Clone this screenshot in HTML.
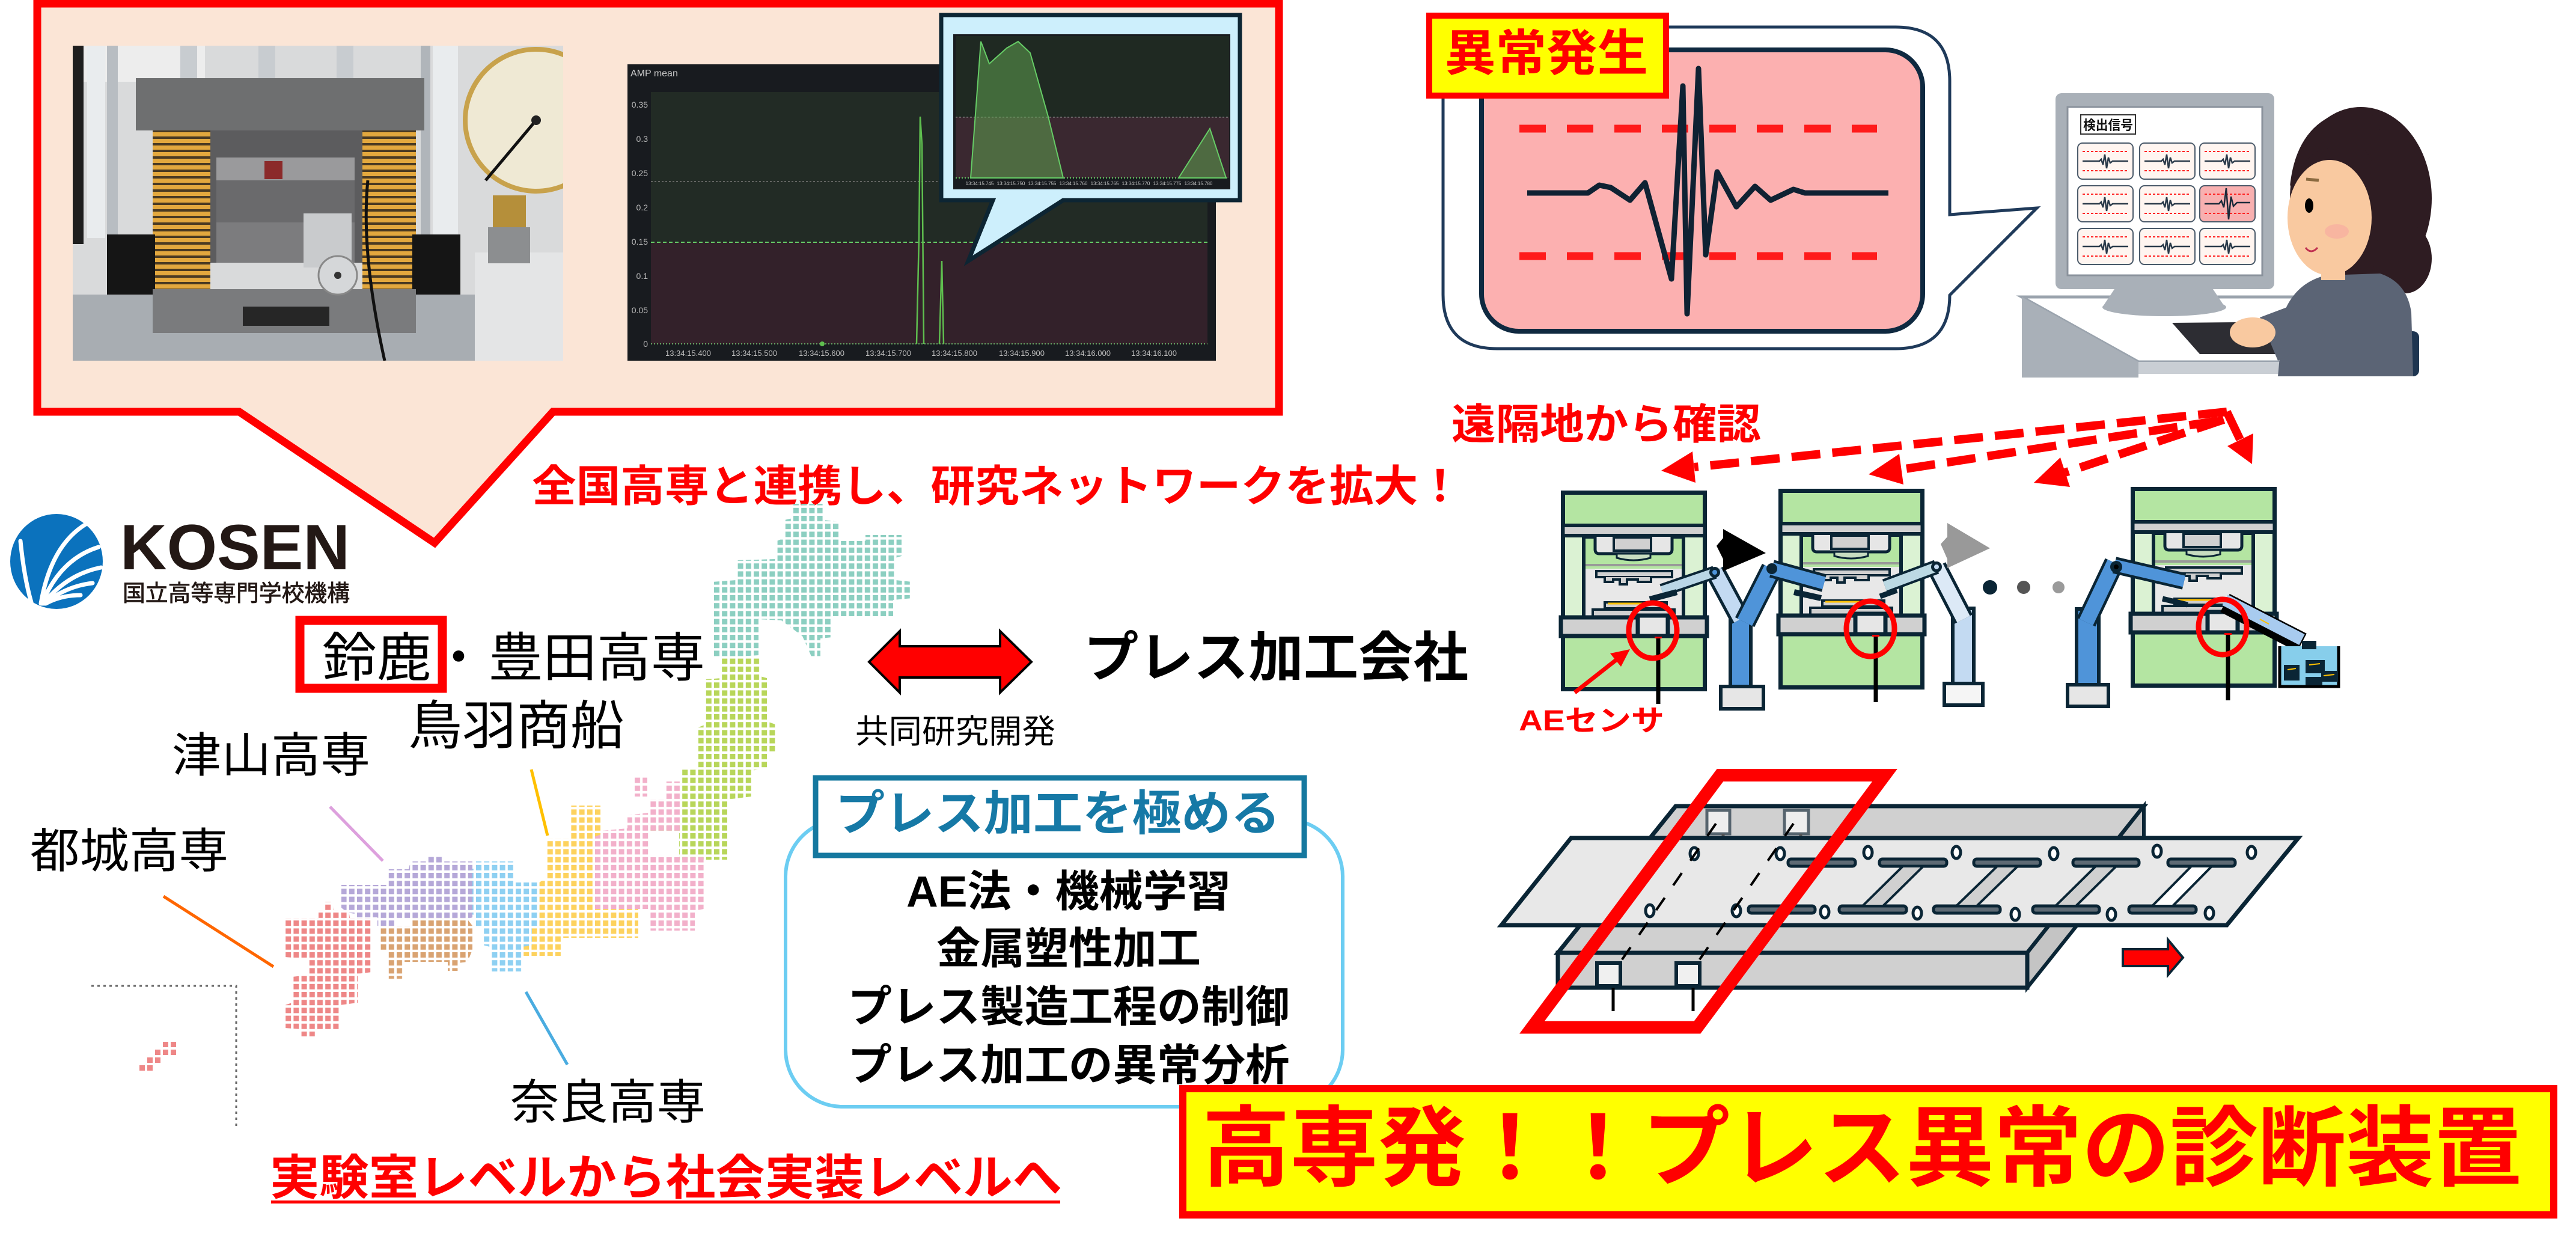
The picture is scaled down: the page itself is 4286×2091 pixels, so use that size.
<!DOCTYPE html>
<html><head><meta charset="utf-8">
<style>
html,body{margin:0;padding:0;background:#fff;}
svg{display:block;}
.t{font-family:"Liberation Sans","Noto Sans CJK JP",sans-serif;}
.b{font-family:"Liberation Sans","Noto Sans CJK JP",sans-serif;font-weight:bold;}
</style></head><body>
<svg xmlns="http://www.w3.org/2000/svg" width="4286" height="2091" viewBox="0 0 4286 2091">
<defs>
<pattern id="mh" width="13.2" height="13.2" patternUnits="userSpaceOnUse"><rect width="9" height="9" fill="#8CCFC1"/></pattern>
<pattern id="mt" width="13.2" height="13.2" patternUnits="userSpaceOnUse"><rect width="9" height="9" fill="#B8D65A"/></pattern>
<pattern id="mk" width="13.2" height="13.2" patternUnits="userSpaceOnUse"><rect width="9" height="9" fill="#F2B0CA"/></pattern>
<pattern id="mc" width="13.2" height="13.2" patternUnits="userSpaceOnUse"><rect width="9" height="9" fill="#FDD25E"/></pattern>
<pattern id="mn" width="13.2" height="13.2" patternUnits="userSpaceOnUse"><rect width="9" height="9" fill="#8ED0F2"/></pattern>
<pattern id="mg" width="13.2" height="13.2" patternUnits="userSpaceOnUse"><rect width="9" height="9" fill="#B5A8D8"/></pattern>
<pattern id="ms" width="13.2" height="13.2" patternUnits="userSpaceOnUse"><rect width="9" height="9" fill="#D9A372"/></pattern>
<pattern id="my" width="13.2" height="13.2" patternUnits="userSpaceOnUse"><rect width="9" height="9" fill="#EE8787"/></pattern>
<pattern id="spr" width="20" height="11" patternUnits="userSpaceOnUse"><rect width="20" height="11" fill="#E3A83E"/><rect y="7" width="20" height="4" fill="#4A3A22"/></pattern>
<clipPath id="phc"><rect x="121" y="76" width="816" height="524"/></clipPath>
<g id="press">
 <rect x="3.5" y="3.5" width="236" height="327" fill="#B4E5A2" stroke="#0A2535" stroke-width="7"/>
 <rect x="3.5" y="58" width="236" height="17" fill="#D0D0D0" stroke="#0A2535" stroke-width="6"/>
 <rect x="7" y="78" width="229" height="132" fill="#DBF2D3"/>
 <rect x="38" y="77" width="166" height="134" fill="#B4E5A2" stroke="#0A2535" stroke-width="6"/>
 <rect x="41" y="130" width="160" height="80" fill="#E8E8E8"/>
 <path d="M57,77 V98 Q57,105 64,105 H178 Q185,105 185,98 V77" fill="#E6E6E6" stroke="#0A2535" stroke-width="5"/>
 <rect x="88" y="78" width="62" height="22" fill="#D0D0D0" stroke="#0A2535" stroke-width="4"/>
 <path d="M93,105 V112 Q121,120 149,112 V105 Z" fill="#C7DCC0" stroke="#0A2535" stroke-width="3"/>
 <rect x="41" y="122" width="160" height="4" fill="#999"/>
 <rect x="59" y="134" width="126" height="10" fill="#D0D0D0" stroke="#0A2535" stroke-width="4"/>
 <path d="M73,144 V152 H87 V148 H98 V156 H110 V148 H128 V152 H150 V144" fill="#D0D0D0" stroke="#0A2535" stroke-width="4"/>
 <rect x="73" y="186" width="103" height="10" fill="#D0D0D0" stroke="#0A2535" stroke-width="4"/>
 <line x1="78" y1="188" x2="170" y2="188" stroke="#FFC000" stroke-width="3"/>
 <rect x="53" y="198" width="136" height="12" fill="#D0D0D0" stroke="#0A2535" stroke-width="4"/>
 <rect x="0" y="211" width="243" height="31" fill="#D0D0D0" stroke="#0A2535" stroke-width="7"/>
 <rect x="128" y="208" width="50" height="34" fill="#E6E6E6" stroke="#0A2535" stroke-width="7"/>
</g>
<g id="sens">
 <line x1="162" y1="246" x2="162" y2="355" stroke="#000" stroke-width="7"/>
 <rect x="156" y="243" width="12" height="3" fill="#F00"/>
 <ellipse cx="153" cy="233" rx="40" ry="46" fill="none" stroke="#FF0000" stroke-width="9"/>
</g>
<g id="pnl">
 <rect x="0" y="0" width="92" height="60" rx="8" fill="#FFF5F0" stroke="#4A5A6A" stroke-width="2"/>
 <line x1="8" y1="14" x2="84" y2="14" stroke="#F22" stroke-width="2" stroke-dasharray="4 3"/>
 <line x1="8" y1="46" x2="84" y2="46" stroke="#F22" stroke-width="2" stroke-dasharray="4 3"/>
 <path d="M8,30 H36 L39,27 L42,36 L45,19 L48,42 L51,24 L54,33 L58,30 H84" fill="none" stroke="#2A3A4A" stroke-width="2.5"/>
</g>
</defs>

<rect width="4286" height="2091" fill="#fff"/>

<!-- ===== Top-left callout ===== -->
<path d="M62,6 H2128 V685 H920 L723,903 L398,685 H62 Z" fill="#FBE5D6" stroke="#FF0000" stroke-width="13" stroke-linejoin="miter"/>

<!-- photo -->
<g clip-path="url(#phc)">
 <rect x="121" y="76" width="816" height="524" fill="#D9DADB"/>
 <rect x="121" y="76" width="220" height="60" fill="#EDEDED"/>
 <rect x="121" y="76" width="18" height="330" fill="#1E1E1E"/>
 <rect x="145" y="76" width="30" height="320" fill="#E9ECEE"/>
 <rect x="178" y="76" width="18" height="320" fill="#B8BDC2"/>
 <rect x="700" y="76" width="16" height="320" fill="#B0B5BA"/>
 <rect x="720" y="76" width="42" height="320" fill="#E9ECEE"/>
 <rect x="300" y="76" width="28" height="60" fill="#C8CCD0"/>
 <rect x="430" y="76" width="28" height="60" fill="#C8CCD0"/>
 <rect x="560" y="76" width="28" height="60" fill="#C8CCD0"/>
 <rect x="226" y="130" width="480" height="87" fill="#6E6F70"/>
 <rect x="350" y="217" width="253" height="220" fill="#5C5C5E"/>
 <rect x="360" y="262" width="230" height="38" fill="#9A9A9C"/>
 <rect x="440" y="268" width="30" height="30" fill="#8B2A2A"/>
 <rect x="360" y="300" width="230" height="70" fill="#6A6A6C"/>
 <rect x="360" y="370" width="230" height="67" fill="#7C7C7E"/>
 <rect x="254" y="217" width="96" height="264" fill="url(#spr)"/>
 <rect x="603" y="217" width="89" height="264" fill="url(#spr)"/>
 <rect x="178" y="390" width="80" height="100" fill="#151515"/>
 <rect x="686" y="390" width="80" height="100" fill="#151515"/>
 <rect x="121" y="490" width="816" height="110" fill="#A8ADB2"/>
 <rect x="254" y="481" width="438" height="73" fill="#7A7B7D"/>
 <rect x="404" y="510" width="144" height="32" fill="#262626"/>
 <rect x="505" y="355" width="80" height="90" fill="#C9CBCD"/>
 <circle cx="562" cy="458" r="32" fill="#D5D7D9" stroke="#888" stroke-width="3"/>
 <circle cx="562" cy="458" r="6" fill="#333"/>
 <path d="M612,300 Q600,420 640,600" stroke="#111" stroke-width="5" fill="none"/>
 <rect x="790" y="420" width="147" height="180" fill="#E4E5E6"/>
 <rect x="820" y="325" width="55" height="55" fill="#B58F3A"/>
 <rect x="812" y="378" width="70" height="60" fill="#8C8E90"/>
 <circle cx="892" cy="200" r="118" fill="#EFE9D4" stroke="#C8A24C" stroke-width="8"/>
 <line x1="892" y1="200" x2="808" y2="300" stroke="#111" stroke-width="5"/>
 <circle cx="892" cy="200" r="8" fill="#222"/>
</g>

<!-- chart -->
<rect x="1044" y="107" width="979" height="493" fill="#181B1F"/>
<text class="t" x="1049" y="127" font-size="16" fill="#ccc">AMP mean</text>
<rect x="1083" y="153" width="926" height="250" fill="#222B25"/>
<rect x="1083" y="403" width="926" height="169" fill="#33212A"/>
<line x1="1083" y1="302" x2="2009" y2="302" stroke="#777" stroke-width="1.5" stroke-dasharray="3 3"/>
<line x1="1083" y1="403" x2="2009" y2="403" stroke="#6c6" stroke-width="2" stroke-dasharray="6 4"/>
<line x1="1083" y1="572" x2="2009" y2="572" stroke="#6a6" stroke-width="2" stroke-dasharray="2 3"/>
<g class="t" font-size="14" fill="#bbb" text-anchor="end">
<text x="1078" y="179">0.35</text><text x="1078" y="236">0.3</text><text x="1078" y="293">0.25</text><text x="1078" y="350">0.2</text><text x="1078" y="407">0.15</text><text x="1078" y="464">0.1</text><text x="1078" y="521">0.05</text><text x="1078" y="577">0</text>
</g>
<g class="t" font-size="13" fill="#bbb" text-anchor="middle">
<text x="1145" y="592">13:34:15.400</text><text x="1255" y="592">13:34:15.500</text><text x="1367" y="592">13:34:15.600</text><text x="1478" y="592">13:34:15.700</text><text x="1588" y="592">13:34:15.800</text><text x="1700" y="592">13:34:15.900</text><text x="1810" y="592">13:34:16.000</text><text x="1920" y="592">13:34:16.100</text>
</g>
<polyline points="1525,572 1529,395 1531,194 1534,240 1537,572" fill="none" stroke="#5fbf4f" stroke-width="2.5"/>
<polyline points="1563,572 1567,434 1570,572" fill="none" stroke="#5fbf4f" stroke-width="2.5"/>
<circle cx="1368" cy="572" r="4" fill="#5fbf4f"/>

<!-- inset callout -->
<path d="M1566,25 H2063 V333 H1769 L1611,434 L1652,333 H1566 Z" fill="#CDEFFC" stroke="#0D2533" stroke-width="7" stroke-linejoin="miter"/>
<rect x="1586" y="57" width="461" height="258" fill="#181B1F"/>
<rect x="1590" y="60" width="455" height="135" fill="#1F2922"/>
<rect x="1590" y="195" width="455" height="101" fill="#3A2830"/>
<line x1="1590" y1="195" x2="2045" y2="195" stroke="#777" stroke-width="1.5" stroke-dasharray="3 3"/>
<polygon points="1615,296 1632,69 1646,106 1675,80 1694,69 1714,88 1744,194 1769,296" fill="rgba(95,160,80,0.55)" stroke="#6c6" stroke-width="2"/>
<polygon points="1961,296 2013,214 2040,296" fill="rgba(95,160,80,0.55)" stroke="#6c6" stroke-width="2"/>
<line x1="1590" y1="296" x2="2045" y2="296" stroke="#6c6" stroke-width="2" stroke-dasharray="2 3"/>
<g class="t" font-size="8" fill="#ccc" text-anchor="middle">
<text x="1630" y="308">13:34:15.745</text><text x="1682" y="308">13:34:15.750</text><text x="1734" y="308">13:34:15.755</text><text x="1786" y="308">13:34:15.760</text><text x="1838" y="308">13:34:15.765</text><text x="1890" y="308">13:34:15.770</text><text x="1942" y="308">13:34:15.775</text><text x="1994" y="308">13:34:15.780</text>
</g>

<!-- red text -->
<text class="b" x="885" y="834" font-size="72" fill="#FF0000" textLength="1548" lengthAdjust="spacingAndGlyphs">全国高専と連携し、研究ネットワークを拡大！</text>

<!-- ===== KOSEN logo ===== -->
<ellipse cx="94" cy="934" rx="77" ry="79" fill="#0B72BD"/>
<g fill="none" stroke="#fff" stroke-width="7" stroke-linecap="round">
<path d="M34,900 Q40,960 52,1002"/>
<path d="M68,1004 Q85,905 146,870"/>
<path d="M70,1004 Q100,930 164,910"/>
<path d="M72,1004 Q112,955 168,944"/>
<path d="M74,1004 Q110,975 154,970"/>
<path d="M76,1004 Q102,990 134,990"/>
</g>
<text x="200" y="947" font-family="Liberation Sans, sans-serif" font-weight="bold" font-size="107" fill="#231815" textLength="382" lengthAdjust="spacingAndGlyphs">KOSEN</text>
<text class="t" x="204" y="1000" font-size="38" fill="#231815" stroke="#231815" stroke-width="0.8" textLength="378" lengthAdjust="spacingAndGlyphs">国立高等専門学校機構</text>

<!-- ===== Map ===== -->
<polygon fill="url(#mh)" points="1319,838 1370,838 1370,865 1398,868 1398,900 1440,900 1440,890 1500,890 1500,925 1490,928 1490,965 1518,968 1518,995 1486,998 1486,1025 1385,1025 1385,1060 1365,1062 1365,1092 1350,1092 1335,1058 1300,1032 1262,1030 1262,1090 1185,1095 1185,968 1225,965 1225,932 1290,930 1292,900 1305,895 1305,865 1319,862"/>
<polygon fill="url(#mt)" points="1201,1093 1265,1093 1265,1125 1276,1128 1276,1200 1290,1205 1290,1250 1276,1255 1276,1278 1250,1282 1250,1325 1210,1330 1210,1430 1130,1430 1130,1383 1080,1383 1080,1375 1135,1372 1135,1280 1162,1276 1162,1210 1174,1205 1174,1130 1201,1128"/>
<polygon fill="url(#mk)" points="1107,1300 1135,1300 1135,1383 1080,1383 1080,1426 1171,1426 1171,1512 1156,1515 1156,1548 1080,1548 1080,1512 989,1512 989,1383 1044,1378 1044,1356 1080,1352 1080,1329 1107,1329"/>
<polygon fill="url(#mk)" points="1056,1290 1077,1290 1077,1325 1056,1325"/>
<polygon fill="url(#mc)" points="950,1340 1000,1340 1000,1388 989,1392 989,1512 1062,1512 1062,1560 935,1560 935,1590 868,1590 868,1575 885,1572 885,1544 897,1540 897,1468 910,1460 910,1395 950,1395"/>
<polygon fill="url(#mn)" points="789,1433 855,1433 855,1468 897,1468 897,1540 885,1544 885,1572 870,1575 870,1616 815,1616 815,1575 803,1572 803,1544 790,1540 790,1522 777,1520 777,1445 789,1445"/>
<polygon fill="url(#mg)" points="711,1422 737,1422 737,1433 786,1433 786,1526 775,1530 660,1530 660,1540 628,1540 628,1526 590,1526 590,1520 578,1518 568,1510 568,1472 645,1472 645,1446 680,1446 683,1433 711,1433"/>
<polygon fill="url(#ms)" points="686,1527 776,1527 786,1540 786,1580 778,1600 762,1602 762,1615 745,1615 745,1600 672,1600 672,1628 645,1628 645,1582 632,1580 632,1540 686,1540"/>
<polygon fill="url(#my)" points="538,1500 553,1500 555,1514 580,1514 582,1527 619,1527 619,1617 595,1620 595,1668 565,1672 565,1712 525,1712 525,1724 500,1724 500,1712 474,1710 474,1672 486,1668 486,1625 512,1622 512,1595 474,1592 474,1527 530,1527 530,1514 538,1514"/>
<g fill="#EE8787">
<rect x="271" y="1733" width="9" height="9"/><rect x="284" y="1733" width="9" height="9"/>
<rect x="258" y="1746" width="9" height="9"/><rect x="271" y="1746" width="9" height="9"/><rect x="284" y="1746" width="9" height="9"/>
<rect x="245" y="1759" width="9" height="9"/><rect x="258" y="1759" width="9" height="9"/>
<rect x="232" y="1772" width="9" height="9"/><rect x="245" y="1772" width="9" height="9"/>
</g>
<path d="M152,1640 H393 V1879" fill="none" stroke="#666" stroke-width="3" stroke-dasharray="4 6"/>
<line x1="272" y1="1491" x2="455" y2="1608" stroke="#FF6600" stroke-width="5"/>
<line x1="549" y1="1342" x2="637" y2="1432" stroke="#DDA0DD" stroke-width="5"/>
<line x1="884" y1="1280" x2="911" y2="1390" stroke="#FFC000" stroke-width="5"/>
<line x1="875" y1="1650" x2="944" y2="1771" stroke="#4AACE0" stroke-width="5"/>

<rect x="499" y="1032" width="237" height="113" fill="none" stroke="#FF0000" stroke-width="15"/>
<g class="t" fill="#000">
<text x="536" y="1125" font-size="88" textLength="182" lengthAdjust="spacingAndGlyphs">鈴鹿</text>
<text x="719" y="1125" font-size="88">・</text>
<text x="813" y="1125" font-size="88" textLength="360" lengthAdjust="spacingAndGlyphs">豊田高専</text>
<text x="679" y="1238" font-size="88" textLength="360" lengthAdjust="spacingAndGlyphs">鳥羽商船</text>
<text x="286" y="1284" font-size="79" textLength="330" lengthAdjust="spacingAndGlyphs">津山高専</text>
<text x="50" y="1443" font-size="79" textLength="330" lengthAdjust="spacingAndGlyphs">都城高専</text>
<text x="849" y="1861" font-size="79" textLength="325" lengthAdjust="spacingAndGlyphs">奈良高専</text>
<text x="1423" y="1236" font-size="55" textLength="333" lengthAdjust="spacingAndGlyphs">共同研究開発</text>
</g>

<text class="b" x="449" y="1987" font-size="80" fill="#FF0000" textLength="1318" lengthAdjust="spacingAndGlyphs">実験室レベルから社会実装レベルへ</text>
<rect x="451" y="1997" width="1313" height="5" fill="#FF0000"/>

<!-- double arrow -->
<polygon points="1446,1101 1497,1050 1497,1075 1664,1075 1664,1050 1716,1101 1664,1152 1664,1127 1497,1127 1497,1152" fill="#FF0000" stroke="#000" stroke-width="4" stroke-linejoin="miter"/>
<text class="b" x="1803" y="1125" font-size="90" fill="#000" textLength="640" lengthAdjust="spacingAndGlyphs">プレス加工会社</text>

<!-- research box -->
<rect x="1307" y="1363" width="927" height="478" rx="95" fill="#fff" stroke="#6CCDF2" stroke-width="6"/>
<rect x="1357" y="1294" width="813" height="129" fill="#fff" stroke="#15789F" stroke-width="9"/>
<text class="b" x="1390" y="1381" font-size="80" fill="#1679A6" textLength="740" lengthAdjust="spacingAndGlyphs">プレス加工を極める</text>
<g class="b" font-size="72" fill="#000" text-anchor="middle">
<text x="1778" y="1508" textLength="540" lengthAdjust="spacingAndGlyphs">AE法・機械学習</text>
<text x="1778" y="1603" textLength="440" lengthAdjust="spacingAndGlyphs">金属塑性加工</text>
<text x="1778" y="1700" textLength="735" lengthAdjust="spacingAndGlyphs">プレス製造工程の制御</text>
<text x="1778" y="1797" textLength="735" lengthAdjust="spacingAndGlyphs">プレス加工の異常分析</text>
</g>

<!-- ===== Top-right anomaly ===== -->
<path d="M2491,45 H3154 Q3244,45 3244,135 V357 L3389,346 L3244,491 Q3244,580 3154,580 H2491 Q2401,580 2401,490 V135 Q2401,45 2491,45 Z" fill="#fff" stroke="#1F3A5A" stroke-width="5" stroke-linejoin="miter"/>
<rect x="2465" y="83" width="734" height="468" rx="62" fill="#FCB0B0" stroke="#0F2940" stroke-width="8"/>
<line x1="2528" y1="214" x2="3123" y2="214" stroke="#FF1A1A" stroke-width="13" stroke-dasharray="44 35"/>
<line x1="2528" y1="426" x2="3123" y2="426" stroke="#FF1A1A" stroke-width="13" stroke-dasharray="44 35"/>
<polyline points="2541,321 2642,321 2661,308 2680,312 2712,333 2737,304 2781,464 2800,143 2807,522 2826,114 2838,424 2857,286 2889,344 2920,310 2946,333 2984,315 3003,321 3142,321" fill="none" stroke="#0F2233" stroke-width="9" stroke-linejoin="round"/>
<rect x="2378" y="26" width="394" height="133" fill="#FFFF00" stroke="#FF0000" stroke-width="10"/>
<text class="b" x="2404" y="117" font-size="82" fill="#FF0000" textLength="338" lengthAdjust="spacingAndGlyphs">異常発生</text>

<!-- monitor & woman -->
<polygon points="3364,494 3905,494 3995,602 3558,602" fill="#fff" stroke="#9AA3AD" stroke-width="5"/>
<polygon points="3364,494 3558,602 3558,628 3364,628" fill="#A9B0B8"/>
<rect x="3558" y="602" width="437" height="20" fill="#C9CED4"/>
<polygon points="3520,478 3680,478 3700,508 3500,508" fill="#A9B0B8"/>
<ellipse cx="3601" cy="511" rx="103" ry="15" fill="#A9B0B8"/>
<rect x="3420" y="155" width="364" height="326" rx="10" fill="#A9B0B8"/>
<rect x="3440" y="178" width="324" height="280" fill="#fff" stroke="#8A929C" stroke-width="3"/>
<rect x="3462" y="191" width="91" height="32" fill="#fff" stroke="#333" stroke-width="2"/>
<text class="b" x="3466" y="216" font-size="22" fill="#111" textLength="83" lengthAdjust="spacingAndGlyphs">検出信号</text>
<use href="#pnl" x="3457" y="238"/><use href="#pnl" x="3560" y="238"/><use href="#pnl" x="3660" y="238"/>
<use href="#pnl" x="3457" y="309"/><use href="#pnl" x="3560" y="309"/>
<rect x="3660" y="309" width="92" height="60" rx="8" fill="#F8B0B0" stroke="#4A5A6A" stroke-width="2"/>
<line x1="3668" y1="323" x2="3744" y2="323" stroke="#F22" stroke-width="2" stroke-dasharray="4 3"/>
<line x1="3668" y1="355" x2="3744" y2="355" stroke="#F22" stroke-width="2" stroke-dasharray="4 3"/>
<path d="M3668,339 H3692 L3696,334 L3700,345 L3704,313 L3708,365 L3712,327 L3716,343 L3722,337 H3744" fill="none" stroke="#1A2A3A" stroke-width="2.5"/>
<use href="#pnl" x="3457" y="380"/><use href="#pnl" x="3560" y="380"/><use href="#pnl" x="3660" y="380"/>
<polygon points="3614,537 3845,535 3851,589 3660,589" fill="#2D2D33"/>
<ellipse cx="3928" cy="330" rx="118" ry="152" fill="#2E1C22"/>
<ellipse cx="4002" cy="430" rx="44" ry="58" fill="#2E1C22"/>
<rect x="3918" y="551" width="107" height="75" rx="10" fill="#1E3550"/>
<path d="M3790,626 L3800,520 Q3820,470 3870,458 L3960,455 Q4005,470 4012,520 L4015,626 Z" fill="#5B6475"/>
<polygon points="3760,528 3840,498 3870,560 3790,600" fill="#5B6475"/>
<ellipse cx="3748" cy="553" rx="38" ry="25" fill="#F9C9A0"/>
<rect x="3862" y="432" width="40" height="34" fill="#F9C9A0"/>
<ellipse cx="3876" cy="362" rx="70" ry="96" fill="#F9C9A0"/>
<path d="M3810,310 Q3822,192 3925,180 Q3968,190 3962,260 Q3900,232 3850,255 Q3826,275 3810,310 Z" fill="#2E1C22"/>
<path d="M3935,250 Q3975,300 3948,452 L3995,452 L3995,260 Z" fill="#2E1C22"/>
<ellipse cx="3842" cy="342" rx="7" ry="12" fill="#000"/>
<line x1="3837" y1="298" x2="3858" y2="300" stroke="#8B6A40" stroke-width="5"/>
<ellipse cx="3888" cy="385" rx="20" ry="12" fill="#F6A8A0" opacity="0.6"/>
<path d="M3836,412 Q3845,424 3856,412" fill="none" stroke="#C03050" stroke-width="3"/>

<!-- remote dashed arrows -->
<g stroke="#FF0000" stroke-width="14" fill="none">
<line x1="3705" y1="685" x2="2819" y2="777" stroke-dasharray="48 20"/>
<line x1="3690" y1="700" x2="3163" y2="781" stroke-dasharray="48 20"/>
<line x1="3700" y1="698" x2="3436" y2="786" stroke-dasharray="48 20"/>
<line x1="3705" y1="685" x2="3727" y2="731"/>
</g>
<g fill="#FF0000">
<polygon points="2764,783 2821,803 2816,751"/>
<polygon points="3109,789 3167,806 3160,755"/>
<polygon points="3384,803 3444,810 3428,761"/>
<polygon points="3747,772 3749,721 3706,742"/>
</g>
<text class="b" x="2415" y="730" font-size="70" fill="#FF0000" textLength="515" lengthAdjust="spacingAndGlyphs">遠隔地から確認</text>

<!-- presses -->
<use href="#press" x="2597" y="816"/>
<use href="#press" x="2959" y="813"/>
<use href="#press" x="3545" y="810"/>

<!-- robot A -->
<rect x="2863" y="1142" width="71" height="37" fill="#E6E6E6" stroke="#0A2535" stroke-width="6"/>
<rect x="2879" y="1020" width="34" height="122" fill="#4F94D9" stroke="#0A2535" stroke-width="6"/>
<line x1="2896" y1="1030" x2="2853" y2="950" stroke="#0A2535" stroke-width="34"/>
<line x1="2896" y1="1030" x2="2853" y2="950" stroke="#C3DAF2" stroke-width="24"/>
<line x1="2853" y1="952" x2="2765" y2="982" stroke="#0A2535" stroke-width="22"/>
<line x1="2853" y1="952" x2="2765" y2="982" stroke="#B9D6E6" stroke-width="14"/>
<line x1="2745" y1="997" x2="2790" y2="985" stroke="#0A2535" stroke-width="10"/>
<circle cx="2853" cy="952" r="9" fill="#0A2535"/><circle cx="2853" cy="952" r="4" fill="#4F94D9"/>
<line x1="2903" y1="1035" x2="2948" y2="946" stroke="#0A2535" stroke-width="36"/>
<line x1="2903" y1="1035" x2="2948" y2="946" stroke="#4F94D9" stroke-width="27"/>
<line x1="2948" y1="946" x2="3035" y2="970" stroke="#0A2535" stroke-width="30"/>
<line x1="2948" y1="946" x2="3035" y2="970" stroke="#4F94D9" stroke-width="21"/>
<circle cx="2948" cy="946" r="9" fill="#0A2535"/>
<line x1="2985" y1="985" x2="3030" y2="995" stroke="#0A2535" stroke-width="10"/>
<polygon points="2867,880 2938,920 2867,950 2867,930 2856,908 2867,895" fill="#000"/>

<!-- robot B -->
<rect x="3235" y="1137" width="64" height="36" fill="#F5F5F5" stroke="#0A2535" stroke-width="6"/>
<rect x="3249" y="1012" width="35" height="125" fill="#C3DAF2" stroke="#0A2535" stroke-width="6"/>
<line x1="3267" y1="1030" x2="3222" y2="943" stroke="#0A2535" stroke-width="34"/>
<line x1="3267" y1="1030" x2="3222" y2="943" stroke="#DCE9F6" stroke-width="24"/>
<line x1="3222" y1="943" x2="3136" y2="975" stroke="#0A2535" stroke-width="24"/>
<line x1="3222" y1="943" x2="3136" y2="975" stroke="#BCD9E3" stroke-width="16"/>
<circle cx="3222" cy="943" r="9" fill="#0A2535"/><circle cx="3222" cy="943" r="4" fill="#C3DAF2"/>
<line x1="3128" y1="992" x2="3156" y2="982" stroke="#0A2535" stroke-width="9"/>
<polygon points="3240,870 3311,912 3240,945 3240,930 3229,905 3240,893" fill="#999"/>

<!-- dots -->
<circle cx="3311" cy="977" r="12" fill="#0A2535"/>
<circle cx="3367" cy="977" r="11" fill="#555"/>
<circle cx="3425" cy="977" r="10" fill="#9A9A9A"/>

<!-- robot C -->
<rect x="3440" y="1139" width="68" height="36" fill="#E6E6E6" stroke="#0A2535" stroke-width="6"/>
<rect x="3455" y="1013" width="37" height="126" fill="#4F94D9" stroke="#0A2535" stroke-width="6"/>
<line x1="3471" y1="1035" x2="3518" y2="936" stroke="#0A2535" stroke-width="34"/>
<line x1="3471" y1="1035" x2="3518" y2="936" stroke="#4F94D9" stroke-width="25"/>
<line x1="3518" y1="940" x2="3634" y2="967" stroke="#0A2535" stroke-width="28"/>
<line x1="3518" y1="940" x2="3634" y2="967" stroke="#4F94D9" stroke-width="19"/>
<circle cx="3521" cy="943" r="10" fill="#0A2535"/><circle cx="3521" cy="943" r="4" fill="#000"/>
<line x1="3598" y1="996" x2="3640" y2="1006" stroke="#0A2535" stroke-width="9"/>

<!-- chute & bin -->
<line x1="3702" y1="1003" x2="3830" y2="1069" stroke="#000" stroke-width="34"/>
<line x1="3702" y1="998" x2="3830" y2="1064" stroke="#A8CBEF" stroke-width="20"/>
<rect x="3791" y="1075" width="102" height="67" fill="#87CEEB"/>
<path d="M3793,1075 V1142 H3891 V1075" fill="none" stroke="#000" stroke-width="5"/>
<g fill="#0A2535">
<rect x="3800" y="1106" width="26" height="26"/><rect x="3836" y="1098" width="32" height="22"/>
<rect x="3862" y="1116" width="28" height="18"/><rect x="3836" y="1126" width="28" height="14"/>
<rect x="3830" y="1066" width="24" height="14"/>
</g>
<g stroke="#FFC000" stroke-width="2">
<line x1="3806" y1="1114" x2="3820" y2="1112"/><line x1="3842" y1="1106" x2="3860" y2="1104"/><line x1="3866" y1="1124" x2="3884" y2="1122"/><line x1="3720" y1="1010" x2="3735" y2="1018"/><line x1="3760" y1="1030" x2="3775" y2="1038"/>
</g>

<use href="#sens" x="2597" y="816"/>
<use href="#sens" x="2959" y="813"/>
<use href="#sens" x="3545" y="810"/>

<line x1="2620" y1="1152" x2="2690" y2="1097" stroke="#FF0000" stroke-width="7"/>
<polygon points="2712,1080 2697,1109 2679,1087" fill="#FF0000"/>
<text class="b" x="2527" y="1215" font-size="48" fill="#FF0000" textLength="242" lengthAdjust="spacingAndGlyphs">AEセンサ</text>

<!-- ===== Conveyor ===== -->
<polygon points="2788,1341 3567,1341 3373,1585 2592,1585" fill="#D0D0D0" stroke="#0A2535" stroke-width="7"/>
<polygon points="3567,1341 3567,1400 3373,1643 3373,1585" fill="#C4C4C4" stroke="#0A2535" stroke-width="6"/>
<rect x="2592" y="1585" width="781" height="58" fill="#D0D0D0" stroke="#0A2535" stroke-width="7"/>
<rect x="2840" y="1348" width="38" height="39" fill="#EEE" stroke="#56646E" stroke-width="5"/>
<rect x="2969" y="1348" width="40" height="39" fill="#EEE" stroke="#56646E" stroke-width="5"/>
<line x1="2867" y1="1387" x2="2867" y2="1428" stroke="#555" stroke-width="5"/>
<line x1="2996" y1="1387" x2="2996" y2="1428" stroke="#555" stroke-width="5"/>
<polygon points="2614,1394 3824,1394 3705,1539 2498,1539" fill="#E8E8E8" stroke="#0A2535" stroke-width="7"/>
<g fill="#5E6A74" stroke="#0A2535" stroke-width="5">
<rect x="2975" y="1429" width="112" height="12" rx="5"/><rect x="3127" y="1429" width="112" height="12" rx="5"/><rect x="3284" y="1429" width="111" height="12" rx="5"/><rect x="3449" y="1429" width="110" height="12" rx="5"/><rect x="3607" y="1429" width="112" height="12" rx="5"/>
<rect x="2909" y="1507" width="111" height="12" rx="5"/><rect x="3060" y="1507" width="112" height="12" rx="5"/><rect x="3217" y="1507" width="111" height="12" rx="5"/><rect x="3382" y="1507" width="111" height="12" rx="5"/><rect x="3542" y="1507" width="112" height="12" rx="5"/>
</g>
<g fill="#D0D0D0" stroke="#0A2535" stroke-width="4">
<polygon points="3166,1441 3200,1441 3133,1507 3099,1507"/>
<polygon points="3323,1441 3357,1441 3289,1507 3255,1507"/>
<polygon points="3487,1441 3521,1441 3454,1507 3420,1507"/>
<polygon points="3646,1441 3680,1441 3615,1507 3581,1507" fill="#fff"/>
</g>
<g fill="#fff" stroke="#0A2535" stroke-width="5">
<ellipse cx="2819" cy="1420" rx="7" ry="10"/><ellipse cx="2962" cy="1420" rx="7" ry="10"/><ellipse cx="3108" cy="1418" rx="7" ry="10"/><ellipse cx="3255" cy="1418" rx="7" ry="10"/><ellipse cx="3417" cy="1420" rx="7" ry="10"/><ellipse cx="3589" cy="1416" rx="7" ry="10"/><ellipse cx="3746" cy="1418" rx="7" ry="10"/>
<ellipse cx="2745" cy="1515" rx="7" ry="10"/><ellipse cx="2889" cy="1515" rx="7" ry="10"/><ellipse cx="3036" cy="1517" rx="7" ry="10"/><ellipse cx="3190" cy="1519" rx="7" ry="10"/><ellipse cx="3353" cy="1521" rx="7" ry="10"/><ellipse cx="3513" cy="1521" rx="7" ry="10"/><ellipse cx="3676" cy="1519" rx="7" ry="10"/>
</g>
<line x1="2855" y1="1370" x2="2681" y2="1622" stroke="#000" stroke-width="4" stroke-dasharray="25 25"/>
<line x1="2984" y1="1370" x2="2810" y2="1622" stroke="#000" stroke-width="4" stroke-dasharray="25 25"/>
<rect x="2657" y="1602" width="39" height="38" fill="#F0F0F0" stroke="#0A2535" stroke-width="6"/>
<rect x="2789" y="1602" width="39" height="38" fill="#F0F0F0" stroke="#0A2535" stroke-width="6"/>
<line x1="2684" y1="1643" x2="2684" y2="1682" stroke="#000" stroke-width="5"/>
<line x1="2817" y1="1643" x2="2817" y2="1682" stroke="#000" stroke-width="5"/>
<polygon points="2862,1289.5 3136,1289.5 2824,1709 2549,1709" fill="none" stroke="#FF0000" stroke-width="21" stroke-linejoin="miter" stroke-miterlimit="10"/>
<polygon points="3532,1579 3607,1579 3607,1563 3632,1593 3607,1622 3607,1607 3532,1607" fill="#FF0000" stroke="#0A2535" stroke-width="4"/>

<!-- ===== Bottom banner ===== -->
<rect x="1968" y="1811" width="2281" height="210" fill="#FFFF00" stroke="#FF0000" stroke-width="12"/>
<text class="b" x="2000" y="1961" font-size="146" fill="#FF0000" textLength="2196" lengthAdjust="spacingAndGlyphs">高専発！！プレス異常の診断装置</text>
</svg>
</body></html>
